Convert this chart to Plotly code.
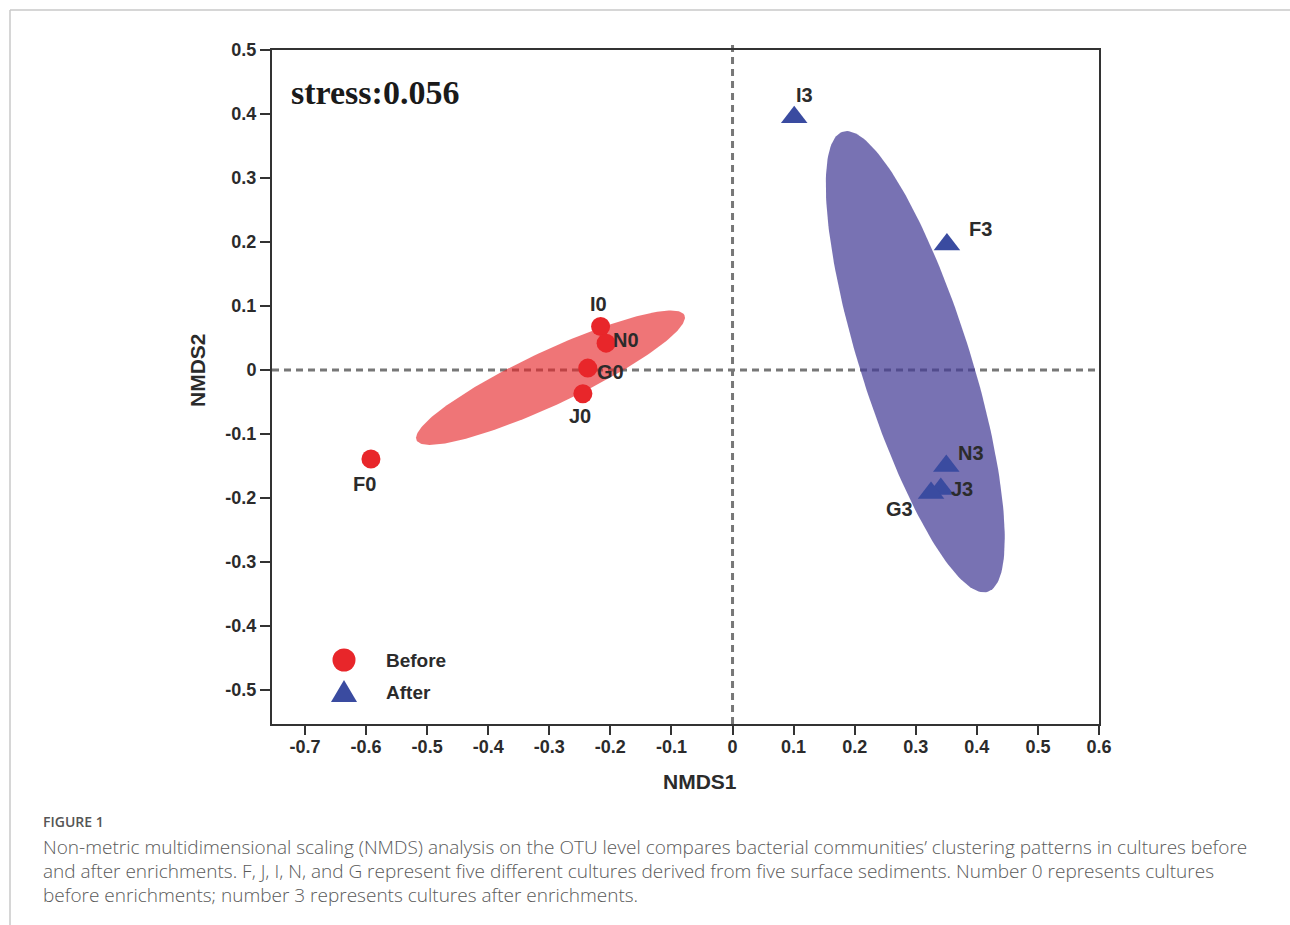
import numpy as np
import plotly.graph_objects as go

# NMDS coordinates of the cultures before enrichment (sample label, NMDS1, NMDS2)
before_labels = ["I0", "N0", "G0", "J0", "F0"]
before_x = [-0.216, -0.207, -0.237, -0.245, -0.592]
before_y = [0.068, 0.042, 0.003, -0.037, -0.139]

# NMDS coordinates of the cultures after enrichment
after_labels = ["I3", "F3", "N3", "J3", "G3"]
after_x = [0.101, 0.351, 0.350, 0.341, 0.325]
after_y = [0.395, 0.196, -0.150, -0.186, -0.192]

# Group ellipses: centre and two conjugate half-axis vectors (data units)
before_ell_center = (-0.298, -0.012)
before_ell_axis1 = (0.2193, 0.0977)
before_ell_axis2 = (0.0187, -0.0383)

after_ell_center = (0.2992, 0.013)
after_ell_axis1 = (0.1187, -0.3594)
after_ell_axis2 = (0.0859, 0.0258)

stress_value = 0.056

x_ticks = [-0.7, -0.6, -0.5, -0.4, -0.3, -0.2, -0.1, 0, 0.1, 0.2, 0.3, 0.4, 0.5, 0.6]
y_ticks = [0.5, 0.4, 0.3, 0.2, 0.1, 0, -0.1, -0.2, -0.3, -0.4, -0.5]

legend_names = ["Before", "After"]

caption_head = "FIGURE 1"
caption_lines = [
    "Non-metric multidimensional scaling (NMDS) analysis on the OTU level compares bacterial communities\u2019 clustering patterns in cultures before",
    "and after enrichments. F, J, I, N, and G represent five different cultures derived from five surface sediments. Number 0 represents cultures",
    "before enrichments; number 3 represents cultures after enrichments.",
]

# label offsets in pixels (dx, dy) relative to each point
before_offsets = [(-2, 23), (20, 3), (23, -4), (-3, -22), (-6, -25)]
after_offsets = [(10, 22), (34, 16), (25, 13), (21, 0), (-32, -16)]

RED = "#E8262A"
BLUE = "#3A4BA0"
TXT = "#2b2b2b"
FONT = "Liberation Sans, Arial, sans-serif"

W, H = 1290, 925
ML, MR, MT, MB = 272, 191, 50, 201
PW, PH = W - ML - MR, H - MT - MB


def px_x(px):
    """page pixel column -> paper x (paper spans the plot area)"""
    return (px - ML) / PW


def px_y(py):
    """page pixel row -> paper y"""
    return (H - MB - py) / PH


def ellipse_path(center, a1, a2, n=200):
    t = np.linspace(0, 2 * np.pi, n)
    xs = center[0] + np.cos(t) * a1[0] + np.sin(t) * a2[0]
    ys = center[1] + np.cos(t) * a1[1] + np.sin(t) * a2[1]
    return xs, ys


fig = go.Figure()

ex, ey = ellipse_path(before_ell_center, before_ell_axis1, before_ell_axis2)
fig.add_trace(go.Scatter(x=ex, y=ey, mode="lines", fill="toself",
                         fillcolor="rgba(230,36,40,0.63)", line=dict(width=0),
                         hoverinfo="skip", showlegend=False))
ex, ey = ellipse_path(after_ell_center, after_ell_axis1, after_ell_axis2)
fig.add_trace(go.Scatter(x=ex, y=ey, mode="lines", fill="toself",
                         fillcolor="rgba(68,60,150,0.72)", line=dict(width=0),
                         hoverinfo="skip", showlegend=False))

fig.add_trace(go.Scatter(x=before_x, y=before_y, mode="markers", name=legend_names[0],
                         text=before_labels, showlegend=False,
                         marker=dict(symbol="circle", size=19, color=RED)))
fig.add_trace(go.Scatter(x=after_x, y=after_y, mode="markers", name=legend_names[1],
                         text=after_labels, showlegend=False,
                         marker=dict(symbol="triangle-up", size=23, color=BLUE)))

shapes = []
# zero reference lines
dash_style = dict(color="#777777", width=3, dash="7px,5px")
shapes.append(dict(type="line", xref="x", yref="y domain", x0=0, x1=0, y0=0, y1=1.01,
                   line=dash_style, layer="below"))
shapes.append(dict(type="line", xref="x domain", yref="y", x0=0, x1=1, y0=0, y1=0,
                   line=dash_style, layer="below"))

# legend swatches (pixel-sized symbols anchored in the lower-left corner)
shapes.append(dict(type="circle", xref="paper", yref="paper",
                   xsizemode="pixel", ysizemode="pixel",
                   xanchor=px_x(344), yanchor=px_y(660),
                   x0=-11.5, x1=11.5, y0=-11.5, y1=11.5,
                   fillcolor=RED, line=dict(width=0)))
shapes.append(dict(type="path", xref="paper", yref="paper",
                   xsizemode="pixel", ysizemode="pixel",
                   xanchor=px_x(344), yanchor=px_y(692),
                   path="M -13 -10 L 13 -10 L 0 12 Z",
                   fillcolor=BLUE, line=dict(width=0)))

# page frame lines
shapes.append(dict(type="line", xref="paper", yref="paper", x0=px_x(10), x1=px_x(W),
                   y0=px_y(10), y1=px_y(10), line=dict(color="#c8c8c8", width=1.5)))
shapes.append(dict(type="line", xref="paper", yref="paper", x0=px_x(10), x1=px_x(10),
                   y0=px_y(H), y1=px_y(10), line=dict(color="#c8c8c8", width=1.5)))

annotations = []
for lab, x, y, (dx, dy) in zip(before_labels + after_labels, before_x + after_x,
                                 before_y + after_y, before_offsets + after_offsets):
    annotations.append(dict(x=x, y=y, xref="x", yref="y", text=lab, showarrow=False,
                            xshift=dx, yshift=dy,
                            font=dict(family=FONT, size=20, color=TXT, weight="bold")))

annotations.append(dict(x=px_x(289), y=px_y(92), xref="paper", yref="paper",
                        xanchor="left", yanchor="middle", showarrow=False,
                        text=f"stress:{stress_value:.3f}",
                        font=dict(family="Liberation Serif, Times New Roman, serif",
                                  size=34, color="#1a1a1a", weight="bold")))

# legend text
for name, py in zip(legend_names, [660, 692]):
    annotations.append(dict(x=px_x(384), y=px_y(py), xref="paper", yref="paper",
                            xanchor="left", yanchor="middle", showarrow=False, text=name,
                            font=dict(family=FONT, size=19, color=TXT, weight="bold")))

# axis titles
annotations.append(dict(x=px_x(700), y=px_y(781), xref="paper", yref="paper",
                        text="NMDS1", showarrow=False, xanchor="center", yanchor="middle",
                        font=dict(family=FONT, size=21, color=TXT, weight="bold")))
annotations.append(dict(x=px_x(197), y=px_y(370), xref="paper", yref="paper",
                        text="NMDS2", showarrow=False, textangle=-90,
                        xanchor="center", yanchor="middle",
                        font=dict(family=FONT, size=21, color=TXT, weight="bold")))

# caption
annotations.append(dict(x=px_x(41), y=px_y(821), xref="paper", yref="paper",
                        text=caption_head, showarrow=False, xanchor="left", yanchor="middle",
                        font=dict(family="Open Sans, sans-serif", size=14, color="#555555",
                                  weight=600)))
for i, line in enumerate(caption_lines):
    annotations.append(dict(x=px_x(41), y=px_y(847 + 24 * i), xref="paper",
                            yref="paper", text=line, showarrow=False,
                            xanchor="left", yanchor="middle",
                            font=dict(family="Open Sans, sans-serif", size=19,
                                      color="#5a5a5a", weight=300)))

axis_common = dict(showgrid=False, zeroline=False, showline=True, mirror=True,
                   linecolor="#333333", linewidth=2, ticks="outside",
                   tickwidth=2, tickcolor="#333333",
                   tickfont=dict(family=FONT, size=18, color=TXT, weight="bold"))

fig.update_layout(
    width=W, height=H,
    margin=dict(l=ML, r=MR, t=MT, b=MB),
    paper_bgcolor="white", plot_bgcolor="white",
    xaxis=dict(range=[-0.754, 0.6], tickvals=x_ticks, ticklen=9, ticklabelstandoff=-4,
               ticktext=[("%g" % v) for v in x_ticks], **axis_common),
    yaxis=dict(range=[-0.553, 0.5], tickvals=y_ticks, ticklen=10,
               ticktext=[("%g" % v) for v in y_ticks], **axis_common),
    annotations=annotations,
    shapes=shapes,
    showlegend=False,
)

fig.write_html("out.html")
